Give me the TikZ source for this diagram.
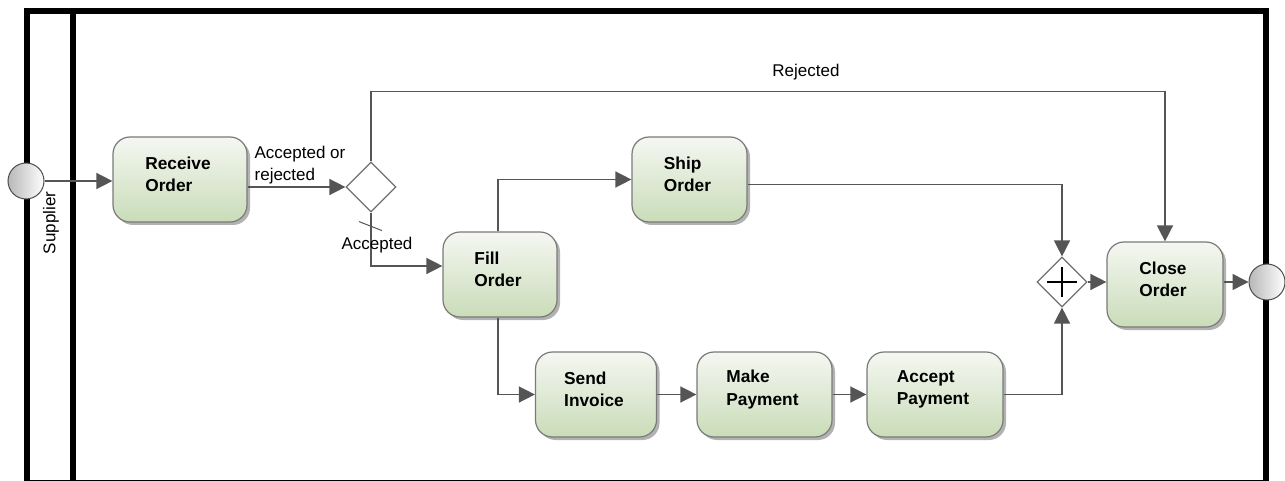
\documentclass[tikz,border=0pt]{standalone}
\usepackage{fontspec}
\setmainfont{Liberation Sans}
\usetikzlibrary{shapes.geometric,arrows.meta,shadows}
\definecolor{flowc}{HTML}{555555}
\definecolor{boxborder}{HTML}{7A7A7A}
\definecolor{boxtop}{HTML}{F5F7F2}
\definecolor{boxbot}{HTML}{C9DCB8}
\definecolor{gwc}{HTML}{707070}
\tikzset{
  task/.style={rectangle, rounded corners=17pt, draw=boxborder, line width=1.2pt,
    top color=boxtop, bottom color=boxbot,
    drop shadow={shadow xshift=3pt, shadow yshift=-3pt, fill=black, opacity=0.3},
    minimum height=85pt, inner sep=0pt},
  tasktext/.style={align=left, font=\fontsize{17.3}{22.5}\selectfont\bfseries, yshift=5pt, xshift=-2pt, inner sep=0pt},
  lbl/.style={font=\fontsize{17}{22}\selectfont, align=left, inner sep=0pt},
  flow/.style={draw=flowc, line width=1.5pt, -{Triangle[length=16pt,width=16pt]}},
  gw/.style={diamond, draw=gwc, line width=1.2pt, fill=white, minimum width=50pt, minimum height=50pt, inner sep=0pt},
  evt/.style={circle, draw=black!70, line width=1pt, left color=black!28, right color=white, minimum size=36pt, inner sep=0pt},
  lane/.style={line width=6pt, draw=black}
}
\begin{document}
\begin{tikzpicture}[x=1pt,y=-1pt]
\useasboundingbox (0,0) rectangle (1285,481);
% pool and lane
\draw[lane] (27,11) rectangle (1266,482.5);
\draw[lane] (73,11) -- (73,482.5);
\node[lbl, rotate=90] (sup) at (51,223) {Supplier};

% tasks
\node[task, minimum width=134pt] (ro) at (180,179.5) {};
\node[tasktext] (rot) at (ro.center) {Receive\\Order};
\node[task, minimum width=115pt] (so) at (689.5,179.5) {};
\node[tasktext] (sot) at (so.center) {Ship\\Order};
\node[task, minimum width=114pt] (fo) at (500,274.5) {};
\node[tasktext] (fot) at (fo.center) {Fill\\Order};
\node[task, minimum width=116pt] (co) at (1165,284.5) {};
\node[tasktext] (cot) at (co.center) {Close\\Order};
\node[task, minimum width=121pt] (si) at (596,394.5) {};
\node[tasktext] (sit) at (si.center) {Send\\Invoice};
\node[task, minimum width=135pt] (mp) at (764.5,394.5) {};
\node[tasktext] (mpt) at (mp.center) {Make\\Payment};
\node[task, minimum width=136pt] (ap) at (935,394.5) {};
\node[tasktext] (apt) at (ap.center) {Accept\\Payment};

% gateways
\node[gw] (g1) at (371,187) {};
\node[gw] (g2) at (1062,282) {};
\draw[black, line width=2.5pt] ([xshift=-15pt]g2.center) -- ([xshift=15pt]g2.center);
\draw[black, line width=2.5pt] ([yshift=-15pt]g2.center) -- ([yshift=15pt]g2.center);

% events
\node[evt] (start) at (26,181) {};
\node[evt] (end) at (1267,282) {};

% flows
\draw[flow] (start.east) -- (ro.west |- start.east);
\draw[flow] (ro.east |- g1.west) -- (g1.west);
\draw[flow] (g1.north) -- ++(0,-70) -| (co.north);
\node[lbl] (rej) at (806,72) {Rejected};
\node[lbl] (aor) at (300,165) {Accepted or\\rejected};
\draw[flow] (g1.south) |- ([yshift=8.5pt]fo.west);
\draw[flowc, line width=1pt] ([xshift=-12pt,yshift=-9pt]g1.south) -- ([xshift=11pt,yshift=-18pt]g1.south);
\node[lbl] (acc) at (377,245) {Accepted};
\draw[flow] ([xshift=-2pt]fo.north) |- (so.west);
\draw[flow] ([yshift=-5pt]so.east) -| (g2.north);
\draw[flow] ([xshift=-2pt]fo.south) |- (si.west);
\draw[flow] (si.east) -- (mp.west);
\draw[flow] (mp.east) -- (ap.west);
\draw[flow] (ap.east) -| (g2.south);
\draw[flow] (g2.east) -- (co.west |- g2.east);
\draw[flow] (co.east |- end.west) -- (end.west);
\end{tikzpicture}
\end{document}
